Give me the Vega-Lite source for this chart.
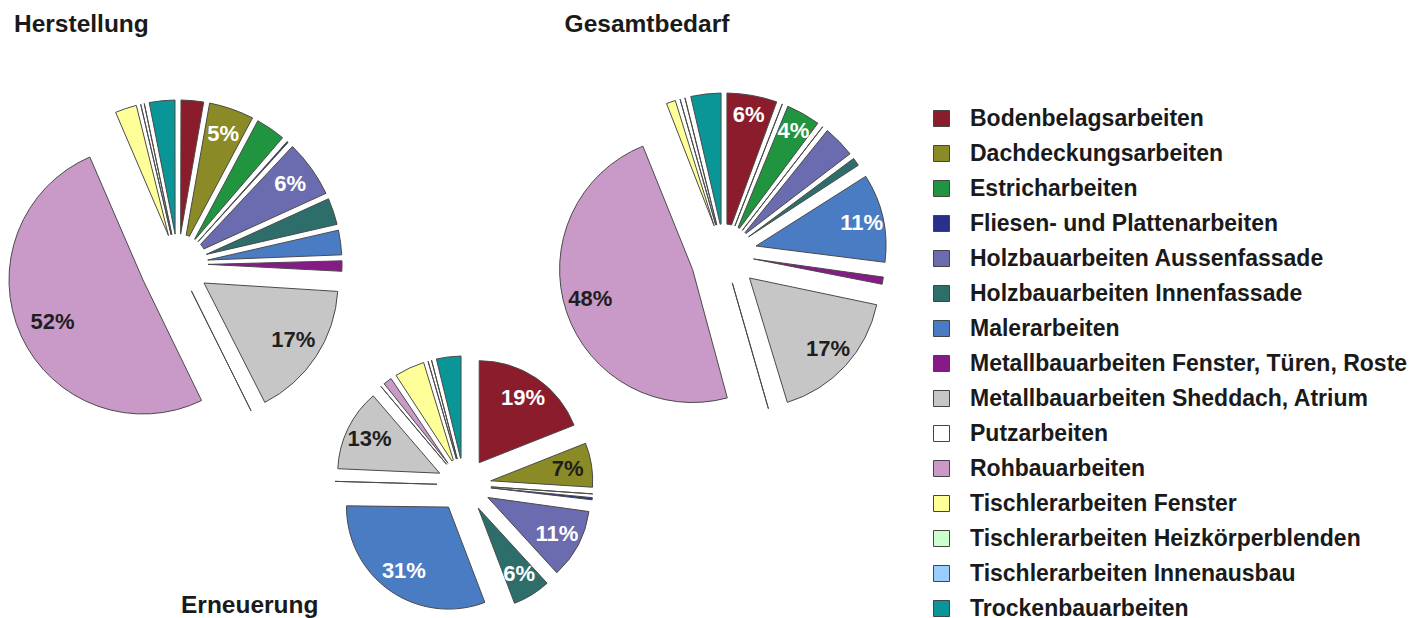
{
  "$schema": "https://vega.github.io/schema/vega-lite/v6.json",
  "autosize": {"type": "pad"},
  "padding": {"left": 7, "top": 11, "right": 5, "bottom": 0},
  "background": "white",
  "config": {
    "view": {"stroke": null},
    "title": {"font": "Liberation Sans", "fontSize": 24.5, "fontWeight": "bold", "color": "#1a1a1a"},
    "legend": {
      "orient": "none", "legendX": 913, "legendY": 69, "title": null,
      "symbolType": "square", "symbolSize": 256, "symbolStrokeColor": "#444444", "symbolStrokeWidth": 1.2,
      "labelFont": "Liberation Sans", "labelFontSize": 23, "labelFontWeight": "bold", "labelColor": "#1a1a1a",
      "labelLimit": 600, "labelOffset": 17, "rowPadding": 11
    },
    "arc": {"stroke": "#4a4a4a", "strokeWidth": 1},
    "text": {"font": "Liberation Sans", "fontSize": 22, "fontWeight": "bold"}
  },
  "datasets": {
    "shares": [
      {"chart": "Herstellung", "category": "Bodenbelagsarbeiten", "value": 2.8, "label": ""},
      {"chart": "Herstellung", "category": "Dachdeckungsarbeiten", "value": 5, "label": "5%"},
      {"chart": "Herstellung", "category": "Estricharbeiten", "value": 3.5, "label": ""},
      {"chart": "Herstellung", "category": "Fliesen- und Plattenarbeiten", "value": 0.7, "label": ""},
      {"chart": "Herstellung", "category": "Holzbauarbeiten Aussenfassade", "value": 6.2, "label": "6%"},
      {"chart": "Herstellung", "category": "Holzbauarbeiten Innenfassade", "value": 3.2, "label": ""},
      {"chart": "Herstellung", "category": "Malerarbeiten", "value": 3, "label": ""},
      {"chart": "Herstellung", "category": "Metallbauarbeiten Fenster, Türen, Roste", "value": 1.6, "label": ""},
      {"chart": "Herstellung", "category": "Metallbauarbeiten Sheddach, Atrium", "value": 16.5, "label": "17%"},
      {"chart": "Herstellung", "category": "Putzarbeiten", "value": 0.3, "label": ""},
      {"chart": "Herstellung", "category": "Rohbauarbeiten", "value": 50.7, "label": "52%"},
      {"chart": "Herstellung", "category": "Tischlerarbeiten Fenster", "value": 2.7, "label": ""},
      {"chart": "Herstellung", "category": "Tischlerarbeiten Heizkörperblenden", "value": 0.3, "label": ""},
      {"chart": "Herstellung", "category": "Tischlerarbeiten Innenausbau", "value": 0.4, "label": ""},
      {"chart": "Herstellung", "category": "Trockenbauarbeiten", "value": 3.1, "label": ""},
      {"chart": "Gesamtbedarf", "category": "Bodenbelagsarbeiten", "value": 5.6, "label": "6%"},
      {"chart": "Gesamtbedarf", "category": "Dachdeckungsarbeiten", "value": 0.6, "label": ""},
      {"chart": "Gesamtbedarf", "category": "Estricharbeiten", "value": 4, "label": "4%"},
      {"chart": "Gesamtbedarf", "category": "Fliesen- und Plattenarbeiten", "value": 0.6, "label": ""},
      {"chart": "Gesamtbedarf", "category": "Holzbauarbeiten Aussenfassade", "value": 3.8, "label": ""},
      {"chart": "Gesamtbedarf", "category": "Holzbauarbeiten Innenfassade", "value": 1.4, "label": ""},
      {"chart": "Gesamtbedarf", "category": "Malerarbeiten", "value": 11, "label": "11%"},
      {"chart": "Gesamtbedarf", "category": "Metallbauarbeiten Fenster, Türen, Roste", "value": 1.3, "label": ""},
      {"chart": "Gesamtbedarf", "category": "Metallbauarbeiten Sheddach, Atrium", "value": 17, "label": "17%"},
      {"chart": "Gesamtbedarf", "category": "Putzarbeiten", "value": 0.5, "label": ""},
      {"chart": "Gesamtbedarf", "category": "Rohbauarbeiten", "value": 48.1, "label": "48%"},
      {"chart": "Gesamtbedarf", "category": "Tischlerarbeiten Fenster", "value": 1.5, "label": ""},
      {"chart": "Gesamtbedarf", "category": "Tischlerarbeiten Heizkörperblenden", "value": 0.4, "label": ""},
      {"chart": "Gesamtbedarf", "category": "Tischlerarbeiten Innenausbau", "value": 0.6, "label": ""},
      {"chart": "Gesamtbedarf", "category": "Trockenbauarbeiten", "value": 3.6, "label": ""},
      {"chart": "Erneuerung", "category": "Bodenbelagsarbeiten", "value": 19, "label": "19%"},
      {"chart": "Erneuerung", "category": "Dachdeckungsarbeiten", "value": 7, "label": "7%"},
      {"chart": "Erneuerung", "category": "Estricharbeiten", "value": 0.2, "label": ""},
      {"chart": "Erneuerung", "category": "Fliesen- und Plattenarbeiten", "value": 1, "label": ""},
      {"chart": "Erneuerung", "category": "Holzbauarbeiten Aussenfassade", "value": 11, "label": "11%"},
      {"chart": "Erneuerung", "category": "Holzbauarbeiten Innenfassade", "value": 6, "label": "6%"},
      {"chart": "Erneuerung", "category": "Malerarbeiten", "value": 31, "label": "31%"},
      {"chart": "Erneuerung", "category": "Metallbauarbeiten Fenster, Türen, Roste", "value": 0.5, "label": ""},
      {"chart": "Erneuerung", "category": "Metallbauarbeiten Sheddach, Atrium", "value": 13, "label": "13%"},
      {"chart": "Erneuerung", "category": "Putzarbeiten", "value": 0.3, "label": ""},
      {"chart": "Erneuerung", "category": "Rohbauarbeiten", "value": 1.8, "label": ""},
      {"chart": "Erneuerung", "category": "Tischlerarbeiten Fenster", "value": 4.5, "label": ""},
      {"chart": "Erneuerung", "category": "Tischlerarbeiten Heizkörperblenden", "value": 0.4, "label": ""},
      {"chart": "Erneuerung", "category": "Tischlerarbeiten Innenausbau", "value": 0.5, "label": ""},
      {"chart": "Erneuerung", "category": "Trockenbauarbeiten", "value": 3.8, "label": ""}
    ]
  },
  "data": {"name": "shares"},
  "bounds": "flush",
  "spacing": 444,
  "resolve": {"scale": {"theta": "independent"}},
  "vconcat": [
    {
      "bounds": "flush",
      "spacing": 228,
      "resolve": {"scale": {"theta": "independent"}},
      "hconcat": [
        {
          "width": 322,
          "height": 452,
          "title": {"text": "Herstellung", "orient": "top", "anchor": "start", "baseline": "alphabetic", "offset": -18, "dx": 7},
          "transform": [{"filter": "datum.chart === 'Herstellung'"}],
          "encoding": {
            "theta": {"field": "value", "type": "quantitative", "stack": true},
            "order": {"field": "category", "type": "ordinal", "sort": "ascending"}
          },
          "layer": [
            {
              "mark": {"type": "arc", "outerRadius": 164, "innerRadius": 30, "padAngle": 0.036},
              "encoding": {
                "color": {
                  "field": "category", "type": "nominal",
                  "scale": {
                    "domain": ["Bodenbelagsarbeiten", "Dachdeckungsarbeiten", "Estricharbeiten", "Fliesen- und Plattenarbeiten", "Holzbauarbeiten Aussenfassade", "Holzbauarbeiten Innenfassade", "Malerarbeiten", "Metallbauarbeiten Fenster, Türen, Roste", "Metallbauarbeiten Sheddach, Atrium", "Putzarbeiten", "Rohbauarbeiten", "Tischlerarbeiten Fenster", "Tischlerarbeiten Heizkörperblenden", "Tischlerarbeiten Innenausbau", "Trockenbauarbeiten"],
                    "range": ["#8b1c2c", "#8a8a26", "#21943f", "#27318c", "#6b6bb0", "#2d6e6a", "#4a7cc4", "#861a86", "#c6c6c6", "#ffffff", "#c99ac8", "#ffff99", "#ccffcc", "#99ccff", "#0a9696"]
                  }
                },
                "opacity": {"condition": {"test": "datum.category === 'Rohbauarbeiten' || datum.category === 'Metallbauarbeiten Sheddach, Atrium'", "value": 0}, "value": 1}
              }
            },
            {
              "mark": {"type": "arc", "outerRadius": 134, "xOffset": -35, "yOffset": 16},
              "encoding": {
                "color": {"field": "category", "type": "nominal"},
                "opacity": {"condition": {"test": "datum.category === 'Rohbauarbeiten'", "value": 1}, "value": 0}
              }
            },
            {
              "mark": {"type": "arc", "outerRadius": 134, "xOffset": 26, "yOffset": 19},
              "encoding": {
                "color": {"field": "category", "type": "nominal"},
                "opacity": {"condition": {"test": "datum.category === 'Metallbauarbeiten Sheddach, Atrium'", "value": 1}, "value": 0}
              }
            },
            {
              "mark": {"type": "text", "radius": 138},
              "encoding": {
                "detail": {"field": "category", "type": "nominal"},
                "text": {"field": "label", "type": "nominal"},
                "color": {"condition": {"test": "datum.category === 'Metallbauarbeiten Sheddach, Atrium' || datum.category === 'Rohbauarbeiten'", "value": "#1e1e1e"}, "value": "#ffffff"}
              }
            }
          ]
        },
        {
          "width": 314,
          "height": 432,
          "title": {"text": "Gesamtbedarf", "orient": "top", "anchor": "start", "baseline": "alphabetic", "offset": -18, "dx": 7},
          "transform": [{"filter": "datum.chart === 'Gesamtbedarf'"}],
          "encoding": {
            "theta": {"field": "value", "type": "quantitative", "stack": true},
            "order": {"field": "category", "type": "ordinal", "sort": "ascending"}
          },
          "layer": [
            {
              "mark": {"type": "arc", "outerRadius": 161, "innerRadius": 30, "padAngle": 0.036},
              "encoding": {
                "color": {"field": "category", "type": "nominal"},
                "opacity": {"condition": {"test": "datum.category === 'Rohbauarbeiten' || datum.category === 'Metallbauarbeiten Sheddach, Atrium' || datum.category === 'Malerarbeiten'", "value": 0}, "value": 1}
              }
            },
            {
              "mark": {"type": "arc", "outerRadius": 133, "xOffset": -31.4, "yOffset": 15.5},
              "encoding": {
                "color": {"field": "category", "type": "nominal"},
                "opacity": {"condition": {"test": "datum.category === 'Rohbauarbeiten'", "value": 1}, "value": 0}
              }
            },
            {
              "mark": {"type": "arc", "outerRadius": 130, "xOffset": 25.5, "yOffset": 24},
              "encoding": {
                "color": {"field": "category", "type": "nominal"},
                "opacity": {"condition": {"test": "datum.category === 'Metallbauarbeiten Sheddach, Atrium'", "value": 1}, "value": 0}
              }
            },
            {
              "mark": {"type": "arc", "outerRadius": 130, "xOffset": 32, "yOffset": -8},
              "encoding": {
                "color": {"field": "category", "type": "nominal"},
                "opacity": {"condition": {"test": "datum.category === 'Malerarbeiten'", "value": 1}, "value": 0}
              }
            },
            {
              "mark": {"type": "text", "radius": 141},
              "encoding": {
                "detail": {"field": "category", "type": "nominal"},
                "text": {"field": "label", "type": "nominal"},
                "color": {"condition": {"test": "datum.category === 'Metallbauarbeiten Sheddach, Atrium' || datum.category === 'Rohbauarbeiten'", "value": "#1e1e1e"}, "value": "#ffffff"}
              }
            }
          ]
        }
      ]
    },
    {
      "width": 894,
      "height": 6,
      "title": {"text": "Erneuerung", "orient": "bottom", "anchor": "start", "baseline": "top", "dx": 164, "offset": -20},
      "transform": [{"filter": "datum.chart === 'Erneuerung'"}],
      "encoding": {
        "theta": {"field": "value", "type": "quantitative", "stack": true},
        "order": {"field": "category", "type": "ordinal", "sort": "ascending"}
      },
      "layer": [
        {
          "mark": {"type": "arc", "outerRadius": 129, "innerRadius": 27, "padAngle": 0.045},
          "encoding": {
            "color": {"field": "category", "type": "nominal"},
            "opacity": {"condition": {"test": "indexof(['Bodenbelagsarbeiten', 'Dachdeckungsarbeiten', 'Holzbauarbeiten Aussenfassade', 'Holzbauarbeiten Innenfassade', 'Malerarbeiten', 'Metallbauarbeiten Sheddach, Atrium'], datum.category) >= 0", "value": 0}, "value": 1}
          }
        },
        {
          "mark": {"type": "arc", "outerRadius": 102, "xOffset": 15.2, "yOffset": -22.3},
          "encoding": {
            "color": {"field": "category", "type": "nominal"},
            "opacity": {"condition": {"test": "datum.category === 'Bodenbelagsarbeiten'", "value": 1}, "value": 0}
          }
        },
        {
          "mark": {"type": "arc", "outerRadius": 102, "xOffset": 26.7, "yOffset": -4.2},
          "encoding": {
            "color": {"field": "category", "type": "nominal"},
            "opacity": {"condition": {"test": "datum.category === 'Dachdeckungsarbeiten'", "value": 1}, "value": 0}
          }
        },
        {
          "mark": {"type": "arc", "outerRadius": 102, "xOffset": 23.9, "yOffset": 12.5},
          "encoding": {
            "color": {"field": "category", "type": "nominal"},
            "opacity": {"condition": {"test": "datum.category === 'Holzbauarbeiten Aussenfassade'", "value": 1}, "value": 0}
          }
        },
        {
          "mark": {"type": "arc", "outerRadius": 102, "xOffset": 14.2, "yOffset": 23.0},
          "encoding": {
            "color": {"field": "category", "type": "nominal"},
            "opacity": {"condition": {"test": "datum.category === 'Holzbauarbeiten Innenfassade'", "value": 1}, "value": 0}
          }
        },
        {
          "mark": {"type": "arc", "outerRadius": 102, "xOffset": -15.5, "yOffset": 22.1},
          "encoding": {
            "color": {"field": "category", "type": "nominal"},
            "opacity": {"condition": {"test": "datum.category === 'Malerarbeiten'", "value": 1}, "value": 0}
          }
        },
        {
          "mark": {"type": "arc", "outerRadius": 102, "xOffset": -24.3, "yOffset": -11.8},
          "encoding": {
            "color": {"field": "category", "type": "nominal"},
            "opacity": {"condition": {"test": "datum.category === 'Metallbauarbeiten Sheddach, Atrium'", "value": 1}, "value": 0}
          }
        },
        {
          "mark": {"type": "text", "radius": 105},
          "encoding": {
            "detail": {"field": "category", "type": "nominal"},
            "text": {"field": "label", "type": "nominal"},
            "color": {"condition": {"test": "datum.category === 'Metallbauarbeiten Sheddach, Atrium' || datum.category === 'Dachdeckungsarbeiten'", "value": "#1e1e1e"}, "value": "#ffffff"}
          }
        }
      ]
    }
  ]
}
